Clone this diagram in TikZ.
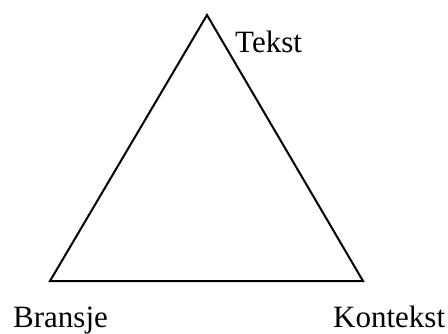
\documentclass[tikz,border=0pt]{standalone}
\usepackage{fontspec}
\setmainfont{Liberation Serif}
\begin{document}
\begin{tikzpicture}[x=1pt,y=1pt,
  label text/.style={anchor=base west,inner sep=0pt,font=\fontsize{31}{36}\selectfont},
  edge/.style={line width=2pt,line join=miter}]
\useasboundingbox (0,0) rectangle (448,333);
% corners of the triangle
\coordinate (top) at (207,318);
\coordinate (left) at (50,52);
\coordinate (right) at (363,52);
\draw[edge] (top) -- (left) -- (right) -- cycle;
% corner labels
\node[label text] (tekst) at (235,280) {Tekst};
\node[label text] (bransje) at (13,6) {Bransje};
\node[label text] (kontekst) at (333,6) {Kontekst};
\end{tikzpicture}
\end{document}
